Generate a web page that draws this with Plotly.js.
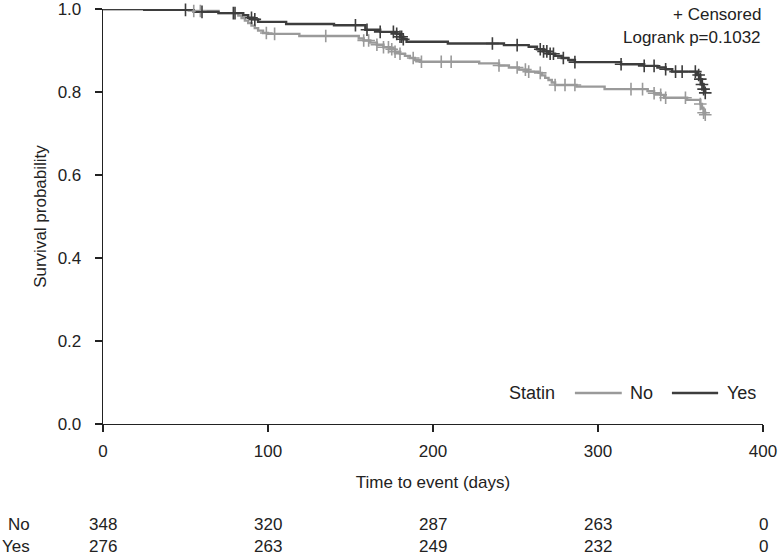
<!DOCTYPE html>
<html>
<head>
<meta charset="utf-8">
<script src="https://cdn.plot.ly/plotly-3.0.1.min.js"></script>
<style>html,body{margin:0;padding:0;background:#fff;}#chart{width:780px;height:558px;}</style>
</head>
<body>
<div id="chart"></div>
<script>
// Kaplan-Meier step data (days, survival probability)
const noTimes = [0,25,55,70,82,84,86,88,90,92,94,97,100,119,155,158,162,166,170,174,177,180,183,186,189,192,228,240,246,252,257,264,266,268,270,272,274,287,304,330,334,338,340,354,362,363,364,365];
const noSurv  = [1.0,0.998,0.995,0.990,0.984,0.978,0.972,0.966,0.960,0.954,0.948,0.942,0.940,0.935,0.929,0.924,0.919,0.914,0.908,0.903,0.897,0.892,0.887,0.882,0.877,0.873,0.869,0.864,0.859,0.854,0.849,0.846,0.840,0.834,0.829,0.823,0.817,0.813,0.807,0.802,0.797,0.793,0.786,0.781,0.771,0.760,0.750,0.745];
const yesTimes = [0,25,55,70,85,88,91,94,111,140,159,168,178,180,182,184,209,243,258,263,267,270,274,278,282,286,314,328,336,341,345,360,362,363,364,365];
const yesSurv  = [1.0,0.998,0.993,0.990,0.985,0.979,0.975,0.969,0.964,0.961,0.950,0.945,0.940,0.933,0.927,0.921,0.917,0.913,0.909,0.903,0.898,0.892,0.887,0.882,0.877,0.872,0.867,0.863,0.859,0.855,0.849,0.841,0.831,0.818,0.807,0.798];
// Censoring times
const noCensor  = [55,59,99,104,135,158,161,166,170,173,175,177,180,188,193,205,211,240,251,256,258,265,274,280,286,320,327,334,338,341,353,362,364,365];
const yesCensor = [50,60,79,80,90,92,153,160,168,176,178,180,181,182,236,251,265,267,269,271,273,279,286,314,328,334,341,347,351,359,361,362,363,364,365];
// Numbers at risk
const riskTimes = [0,100,200,300,400];
const riskNo  = [348,320,287,263,0];
const riskYes = [276,263,249,232,0];
const groupLabels = ["No","Yes"];
const legendTitle = "Statin";
const logrankText = "Logrank p=0.1032";

const colNo = "#9a9a9a", colYes = "#3d3d3d";
const FONT = "Liberation Sans, Arial, Helvetica, sans-serif";
const FS = 17;
const TXT = "#222";

function stepAt(times, surv, t){
  let v = surv[0];
  for (let i=0;i<times.length;i++){ if (times[i] <= t) v = surv[i]; }
  return v;
}

const traces = [
  {x:noTimes, y:noSurv, mode:"lines", line:{shape:"hv", color:colNo, width:2.4}, name:groupLabels[0], cliponaxis:false, showlegend:false},
  {x:yesTimes, y:yesSurv, mode:"lines", line:{shape:"hv", color:colYes, width:2.4}, name:groupLabels[1], cliponaxis:false, showlegend:false},
  {x:noCensor, y:noCensor.map(t=>stepAt(noTimes,noSurv,t)), mode:"markers", showlegend:false, cliponaxis:false,
   marker:{symbol:"cross-thin", size:9, color:colNo, line:{color:colNo, width:1.6}}},
  {x:yesCensor, y:yesCensor.map(t=>stepAt(yesTimes,yesSurv,t)), mode:"markers", showlegend:false, cliponaxis:false,
   marker:{symbol:"cross-thin", size:9, color:colYes, line:{color:colYes, width:1.6}}}
];

const ann = (x, y, text, xanchor, xref, size) => ({xref:xref||"paper", yref:"paper", x, y, xanchor, yanchor:"middle",
  text, showarrow:false, font:{size:size||FS, color:TXT, family:FONT}});

const annotations = [
  ann(1.0, 0.987, "+ Censored", "right"),
  ann(1.0, 0.932, logrankText, "right"),
  // legend (drawn manually so the line samples match the reference length)
  ann(0.612, 0.0747, legendTitle, "left", "paper", 18),
  ann(0.795, 0.0747, groupLabels[0], "left", "paper", 18),
  ann(0.942, 0.0747, groupLabels[1], "left", "paper", 18)
];
const shapes = [
  {type:"line", xref:"paper", yref:"paper", x0:0.715, x1:0.786, y0:0.0747, y1:0.0747, line:{color:colNo, width:2.6}},
  {type:"line", xref:"paper", yref:"paper", x0:0.862, x1:0.932, y0:0.0747, y1:0.0747, line:{color:colYes, width:2.6}}
];
const rowY = [-0.243, -0.294];
[riskNo, riskYes].forEach((row, r) => {
  annotations.push(ann(-0.108, rowY[r], groupLabels[r], "right"));
  row.forEach((v, i) => {
    annotations.push(ann(riskTimes[i], rowY[r], String(v), "center", "x"));
  });
});

const layout = {
  width:780, height:558,
  margin:{l:103, r:17, t:9, b:134},
  paper_bgcolor:"#fff", plot_bgcolor:"#fff",
  font:{family:FONT, size:FS, color:TXT},
  showlegend:false,
  xaxis:{range:[0,400], tickvals:[0,100,200,300,400], showline:true, linecolor:"#222", linewidth:1.3,
         ticks:"outside", ticklen:7, tickcolor:"#222", tickwidth:1.3, showgrid:false, zeroline:false,
         ticklabelstandoff:4, ticklabeloverflow:"allow",
         title:{text:"Time to event (days)", standoff:16, font:{size:FS}}, tickfont:{size:FS}},
  yaxis:{range:[0,1], tickvals:[0,0.2,0.4,0.6,0.8,1.0], tickformat:".1f", showline:true, linecolor:"#222", linewidth:1.3,
         ticks:"outside", ticklen:7, tickcolor:"#222", tickwidth:1.3, showgrid:false, zeroline:false,
         ticklabelstandoff:10, ticklabeloverflow:"allow",
         title:{text:"Survival probability", standoff:6, font:{size:FS}}, tickfont:{size:FS}},
  annotations, shapes
};

Plotly.newPlot("chart", traces, layout, {displayModeBar:false, staticPlot:true});
</script>
</body>
</html>
